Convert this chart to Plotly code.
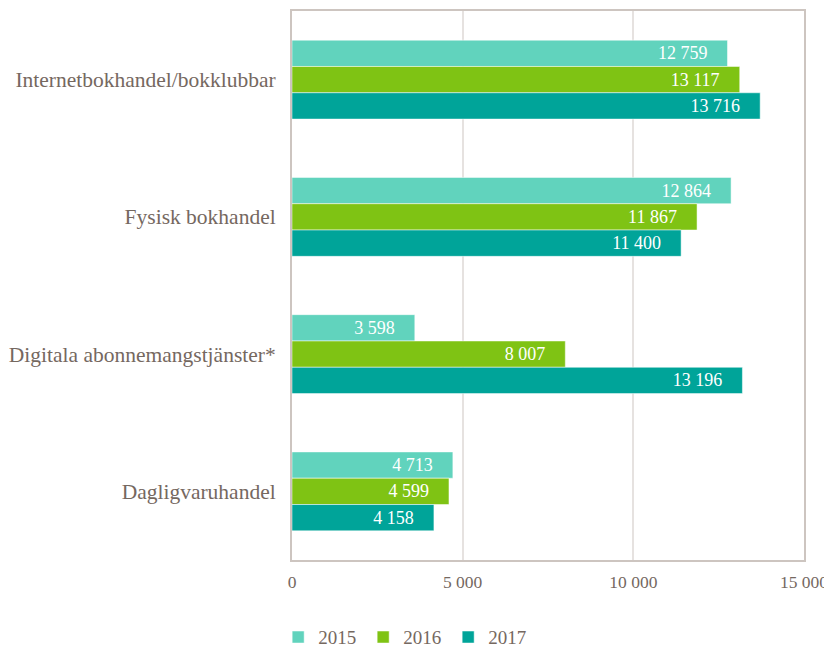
import plotly.graph_objects as go

categories = ["Internetbokhandel/bokklubbar", "Fysisk bokhandel",
              "Digitala abonnemangstjänster*", "Dagligvaruhandel"]
years = ["2015", "2016", "2017"]
v2015 = [12759, 12864, 3598, 4713]
v2016 = [13117, 11867, 8007, 4599]
v2017 = [13716, 11400, 13196, 4158]
colors = ["#61d3bd", "#7fc314", "#00a499"]

txt = "#75685f"
font_family = "Liberation Serif"

fig = go.Figure()
for name, vals, col in zip(years, [v2015, v2016, v2017], colors):
    fig.add_trace(go.Bar(
        y=categories, x=vals, name=name, orientation="h",
        marker=dict(color=col, line=dict(color="white", width=0.5)),
        texttemplate="%{x:,}\u00a0\u00a0\u00a0\u2009", textposition="inside", insidetextanchor="end",
        textfont=dict(color="white", size=18, family=font_family),
        cliponaxis=False,
    ))

fig.update_layout(
    width=824, height=641,
    barmode="group", bargap=0.425, bargroupgap=0,
    separators=", ",
    plot_bgcolor="white", paper_bgcolor="white",
    margin=dict(l=284, r=28, t=3, b=89, autoexpand=False),
    font=dict(family=font_family, color=txt, size=18),
    legend=dict(orientation="h", x=0.222, xanchor="center", y=-0.106, yanchor="top",
                font=dict(size=19, color=txt, family=font_family), traceorder="normal",
                itemwidth=30, entrywidth=40),
    showlegend=True,
)
fig.update_xaxes(range=[0, 15000], tickvals=[0, 5000, 10000, 15000], tickformat=",",
                 showgrid=True, gridcolor="#e6e2e0", gridwidth=2,
                 showline=True, linecolor="#cdc5c0", linewidth=2, mirror=True,
                 zeroline=False, ticks="", ticklabelstandoff=5, automargin=False,
                 tickfont=dict(size=17.5, color=txt, family=font_family))
fig.update_yaxes(categoryorder="array", categoryarray=categories, autorange="reversed",
                 showline=True, linecolor="#cdc5c0", linewidth=2, mirror=True,
                 showgrid=False, ticks="", ticklabelstandoff=10, automargin=False,
                 tickfont=dict(size=21.5, color=txt, family=font_family))

fig.write_html("out.html")
